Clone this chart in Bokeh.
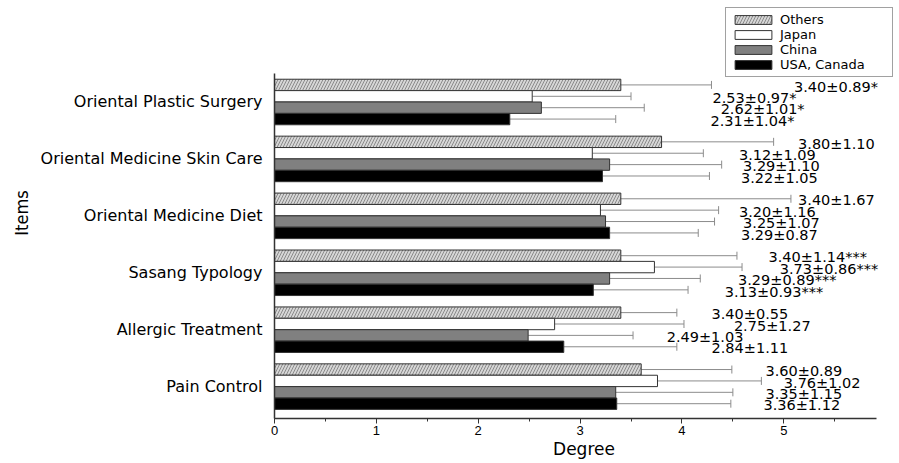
from bokeh.plotting import figure
from bokeh.models import (ColumnDataSource, Range1d, FixedTicker, SingleIntervalTicker,
                          Whisker, TeeHead, Legend, LegendItem)
from bokeh.core.properties import value
from bokeh.embed import file_html
from bokeh.resources import INLINE

# ---------------- data (top-to-bottom order as in the chart) ----------------
items = ["Oriental Plastic Surgery", "Oriental Medicine Skin Care", "Oriental Medicine Diet",
         "Sasang Typology", "Allergic Treatment", "Pain Control"]
series = ["Others", "Japan", "China", "USA, Canada"]
others_mean = [3.40, 3.80, 3.40, 3.40, 3.40, 3.60]
others_sd = [0.89, 1.10, 1.67, 1.14, 0.55, 0.89]
japan_mean = [2.53, 3.12, 3.20, 3.73, 2.75, 3.76]
japan_sd = [0.97, 1.09, 1.16, 0.86, 1.27, 1.02]
china_mean = [2.62, 3.29, 3.25, 3.29, 2.49, 3.35]
china_sd = [1.01, 1.10, 1.07, 0.89, 1.03, 1.15]
usa_mean = [2.31, 3.22, 3.29, 3.13, 2.84, 3.36]
usa_sd = [1.04, 1.05, 0.87, 0.93, 1.11, 1.12]
significance = ["*", "", "", "***", "", ""]
x_ticks = [0, 1, 2, 3, 4, 5]

# ---------------- layout / style ----------------
X_AXIS_MAX = 5.91          # end of the drawn x axis
X_VIEW_MAX = 6.077         # frame extends a little further (room for the legend)
Y_AXIS = (-0.56, 5.5)
Y_VIEW_MAX = 6.66
BAR_H = 0.2
offsets = [0.3, 0.1, -0.1, -0.3]          # Others, Japan, China, USA within group
label_x = {                                # where each value label starts (data units)
    "Others": [5.10, 5.14, 5.14, 4.85, 4.29, 4.82],
    "Japan": [4.30, 4.56, 4.56, 4.96, 4.51, 5.00],
    "China": [4.38, 4.60, 4.60, 4.55, 3.85, 4.82],
    "USA, Canada": [4.28, 4.58, 4.58, 4.42, 4.29, 4.80],
}
styles = {
    "Others": dict(fill_color="#d6d6d6", hatch_pattern="/", hatch_color="#8a8a8a",
                   hatch_scale=6, hatch_weight=1),
    "Japan": dict(fill_color="white"),
    "China": dict(fill_color="#808080"),
    "USA, Canada": dict(fill_color="black"),
}
means = {"Others": others_mean, "Japan": japan_mean, "China": china_mean, "USA, Canada": usa_mean}
sds = {"Others": others_sd, "Japan": japan_sd, "China": china_sd, "USA, Canada": usa_sd}

n = len(items)
group_y = [n - 1 - i for i in range(n)]

FONT = "DejaVu Sans"

p = figure(width=899, height=463, x_range=Range1d(0, X_VIEW_MAX),
           y_range=Range1d(Y_AXIS[0], Y_VIEW_MAX),
           output_backend="svg", toolbar_location=None,
           min_border_left=274, min_border_right=6, min_border_top=7, min_border_bottom=45)
p.outline_line_color = None
p.xgrid.visible = False
p.ygrid.visible = False

renderers = {}
for s, off in zip(series, offsets):
    m = means[s]
    sd = sds[s]
    src = ColumnDataSource(dict(
        y=[g + off for g in group_y],
        mean=m,
        hi=[a + b for a, b in zip(m, sd)],
        lx=label_x[s],
        ly=[g + off - 0.03 for g in group_y],
        txt=[f"{a:.2f}\u00b1{b:.2f}{sg}" for a, b, sg in zip(m, sd, significance)],
    ))
    r = p.hbar(y="y", left=0, right="mean", height=BAR_H, source=src,
               line_color="#333333", line_width=1, **styles[s])
    renderers[s] = r
    w = Whisker(source=src, base="y", lower="mean", upper="hi", dimension="width",
                line_color="#8c8c8c", line_width=1, lower_head=None,
                upper_head=TeeHead(size=8, line_color="#8c8c8c", line_width=1))
    p.add_layout(w)
    p.text(x="lx", y="ly", text="txt", source=src, text_font=value(FONT),
           text_font_size="14.5px", text_color="black", text_baseline="middle",
           text_align="left")

# axes
p.xaxis.bounds = (0, X_AXIS_MAX)
p.xaxis.ticker = SingleIntervalTicker(interval=1, num_minor_ticks=2)
p.xaxis.major_label_overrides = {t: str(t) for t in x_ticks}
p.xaxis.axis_line_color = "#333333"
p.xaxis.axis_line_width = 1.5
p.xaxis.major_tick_line_color = "#333333"
p.xaxis.major_tick_out = 5
p.xaxis.major_tick_in = 0
p.xaxis.minor_tick_line_color = "#333333"
p.xaxis.minor_tick_out = 3
p.xaxis.minor_tick_in = 0
p.xaxis.major_label_text_font = "Liberation Sans"
p.xaxis.major_label_text_font_size = "13px"
p.xaxis.major_label_text_color = "black"
p.xaxis.major_label_standoff = 2
p.xaxis.axis_label = "Degree"
p.xaxis.axis_label_text_font = FONT
p.xaxis.axis_label_text_font_style = "normal"
p.xaxis.axis_label_text_font_size = "17px"
p.xaxis.axis_label_text_color = "black"
p.xaxis.axis_label_standoff = 1

p.yaxis.bounds = Y_AXIS
p.yaxis.ticker = FixedTicker(ticks=group_y)
p.yaxis.major_label_overrides = {g: it for g, it in zip(group_y, items)}
p.yaxis.axis_line_color = "#333333"
p.yaxis.axis_line_width = 1.5
p.yaxis.major_tick_line_color = None
p.yaxis.minor_tick_line_color = None
p.yaxis.major_label_text_font = FONT
p.yaxis.major_label_text_font_size = "16px"
p.yaxis.major_label_text_color = "black"
p.yaxis.major_label_standoff = 6
p.yaxis.axis_label = "Items"
p.yaxis.axis_label_text_font = "DejaVu Sans Condensed, Liberation Sans, sans-serif"
p.yaxis.axis_label_text_font_style = "normal"
p.yaxis.axis_label_text_font_size = "18px"
p.yaxis.axis_label_text_color = "black"
p.yaxis.axis_label_standoff = 6

legend = Legend(items=[LegendItem(label=s, renderers=[renderers[s]]) for s in series],
                location="top_right", glyph_width=46, glyph_height=11, label_height=13,
                label_width=108, spacing=0, padding=4, margin=0, label_standoff=4,
                label_text_font=FONT, label_text_font_size="13px",
                label_text_color="black",
                border_line_color="#444444", border_line_width=1,
                background_fill_color="white", background_fill_alpha=1)
p.add_layout(legend)

open("out.html", "w").write(file_html(p, INLINE))
